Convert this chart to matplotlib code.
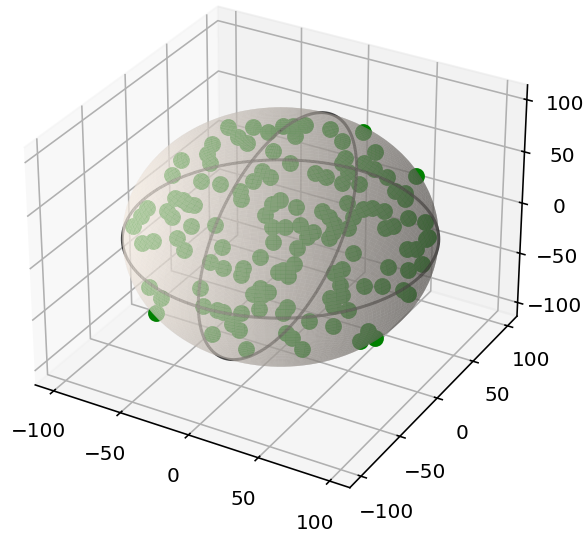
import numpy as np
import matplotlib
matplotlib.use("Agg")
import matplotlib.pyplot as plt

# points
point_x = [-36,-19,-22,-12,-6,7,-35,-32,-26,-50,-49,-24,-10,5,8,9,10,17,-37,-30,-20,-25,-57,-60,-66,-38,-32,-16,0,26,27,30,33,-2,3,8,10,21,34,33,52,22,38,45,45,46,54,60,68,71,52,54,61,76,79,81,63,69,71,74,79,88,92,54,59,63,70,86,84,47,40,40,55,96,64,-51,-42,-23,-16,9,4,13,25,25,33,37,45,1,-41,-29,-40,3,13,17,28,38,34,37,42,39,22,26,7,27,51,51,52,51,47,77,75,72,76,78,73,75,81,86,92,92,98,100,95,97,96,98,99,53,64,74,52,55,58,81,86,71,64,53]
point_y = [-4,-2,-15,-21,-5,-22,-24,-35,-42,-37,-50,-56,-56,-58,-62,-49,-40,-42,-66,-68,-71,-70,-66,-69,-69,-73,-77,-81,-79,-64,-57,-53,-68,6,10,16,0,25,17,46,28,-26,-24,-22,2,-4,9,11,13,47,-8,-18,-10,10,17,13,-28,-32,-23,-17,-11,5,20,-43,-43,-44,-39,-12,-18,-58,-51,-64,-56,16,-48,-82,-84,-86,-90,-86,-92,-92,-89,-91,-82,-73,-81,-99,-91,-96,-86,-100,-99,-99,-96,-92,-92,-89,-88,-90,-97,-95,-96,-89,-86,-68,-74,-79,-79,-46,-56,-60,-60,-61,-67,-66,-58,-48,-36,-29,-13,2,-9,-2,14,-19,-15,-84,-77,-65,-84,-81,-74,-43,-41,-4,-52,-60]
point_z = [93,98,96,97,100,97,90,88,87,78,72,79,82,82,78,87,91,89,65,67,68,67,48,41,30,57,56,57,62,72,78,80,66,100,99,98,99,94,92,82,81,94,89,87,89,89,84,79,73,53,85,82,79,65,59,57,73,65,67,66,61,47,35,72,69,64,60,50,51,66,76,66,62,25,60,28,35,46,40,50,38,36,39,34,47,57,37,17,-4,-6,-32,2,1,1,3,8,20,25,22,20,-10,-15,-26,-37,5,53,43,35,39,44,35,33,23,15,15,7,0,18,12,25,14,10,30,26,24,-1,-7,10,-4,-13,-15,-21,-35,-40,-30,-70,57,59]
radius = 100
ticks = [-100, -50, 0, 50, 100]

dpi = 144
fig = plt.figure(figsize=(583 / dpi, 534 / dpi), dpi=dpi)
s = 560
ax = fig.add_axes([(273 - s / 2) / 583, 1 - (243 + s / 2) / 534, s / 583, s / 534],
                  projection='3d', computed_zorder=False)
ax.set_xlim(-114, 114)
ax.set_ylim(-114, 114)
ax.set_zlim(-114, 114)
ax.set_xticks(ticks)
ax.set_yticks(ticks)
ax.set_zticks(ticks)

# two great circles, under the sphere
t = np.linspace(0, 2 * np.pi, 200)
ax.plot(radius * np.cos(t), radius * np.sin(t), 0 * t, color='k', lw=1.5, alpha=0.7, zorder=1)
ax.plot(0 * t, radius * np.cos(t), radius * np.sin(t), color='k', lw=1.5, alpha=0.7, zorder=1)

ax.scatter(point_x, point_y, point_z, color='green', s=55, zorder=0, depthshade=False)

# sphere
u = np.linspace(0, 2 * np.pi, 100)
v = np.linspace(0, np.pi, 100)
xs = radius * np.outer(np.cos(u), np.sin(v))
ys = radius * np.outer(np.sin(u), np.sin(v))
zs = radius * np.outer(np.ones_like(u), np.cos(v))
ax.plot_surface(xs, ys, zs, color='linen', alpha=0.5, zorder=2, rcount=100, ccount=100, linewidth=0)

fig.savefig('out.png', dpi=dpi)
